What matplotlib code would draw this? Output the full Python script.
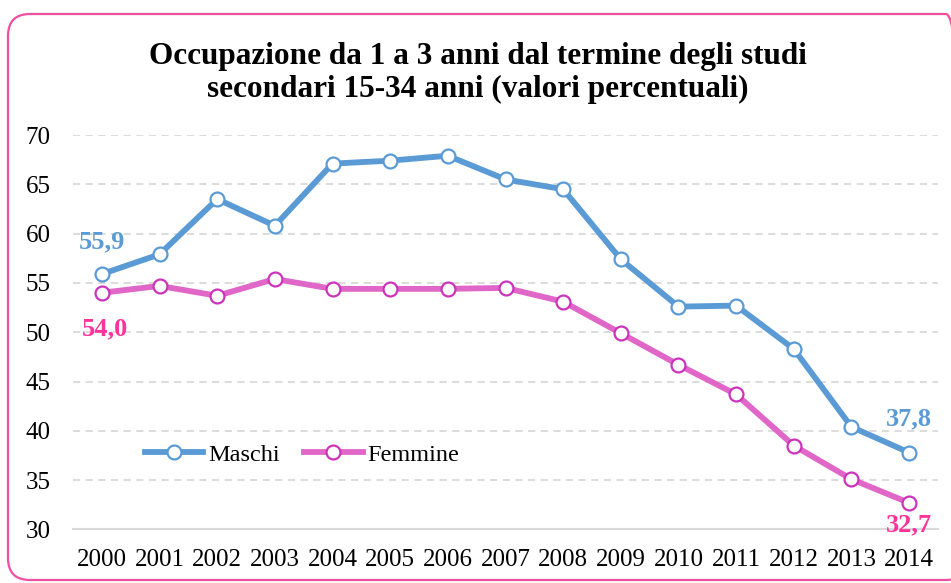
import matplotlib
matplotlib.use('Agg')
import matplotlib.pyplot as plt
from matplotlib.patches import FancyBboxPatch
from matplotlib.transforms import IdentityTransform

# dati
anni = ['2000', '2001', '2002', '2003', '2004', '2005', '2006', '2007',
        '2008', '2009', '2010', '2011', '2012', '2013', '2014']
maschi = [55.9, 57.9, 63.5, 60.8, 67.1, 67.4, 67.9, 65.5,
          64.5, 57.4, 52.6, 52.7, 48.3, 40.4, 37.8]
femmine = [54.0, 54.7, 53.7, 55.4, 54.4, 54.4, 54.4, 54.5,
           53.1, 49.9, 46.7, 43.7, 38.5, 35.1, 32.7]
y_ticks = [30, 35, 40, 45, 50, 55, 60, 65, 70]

blu = '#5B9BD5'
rosa = '#E066C8'
rosa_bordo = '#CC33BB'
rosa_lab = '#FF3399'

plt.rcParams['font.family'] = ['Liberation Serif', 'DejaVu Serif']

fig = plt.figure(figsize=(9.51, 5.83), dpi=100)
ax = fig.add_axes([0.0768, 0.0918, 0.9095, 0.6766])

x = list(range(len(anni)))
ax.plot(x, maschi, '-o', color=blu, lw=4.2, ms=10, mfc='white',
        mec=blu, mew=1.6, label='Maschi', zorder=3)
ax.plot(x, femmine, '-o', color=rosa, lw=4.2, ms=10, mfc='white',
        mec=rosa_bordo, mew=1.6, label='Femmine', zorder=3)

ax.set_xlim(-0.5, len(anni) - 0.5)
ax.set_ylim(30, 70)
ax.set_yticks(y_ticks)
ax.set_xticks(x)
ax.set_xticklabels(anni)
ax.tick_params(length=0, labelsize=18, colors='black')
ax.tick_params(axis='x', pad=14)
ax.tick_params(axis='y', pad=16)

for v in y_ticks[1:]:
    ax.axhline(v, color='#D9D9D9', lw=1.3, ls=(0, (4, 3)), zorder=1)
for s in ['top', 'right', 'left']:
    ax.spines[s].set_visible(False)
ax.spines['bottom'].set_color('#D9D9D9')
ax.spines['bottom'].set_linewidth(1.5)

# etichette primo e ultimo anno
ax.annotate('55,9', (0, maschi[0]), xytext=(0, 23), textcoords='offset points',
            ha='center', va='center', color=blu, fontsize=19, fontweight='bold')
ax.annotate('54,0', (0, femmine[0]), xytext=(2, -26), textcoords='offset points',
            ha='center', va='center', color=rosa_lab, fontsize=19, fontweight='bold')
ax.annotate('37,8', (14, maschi[-1]), xytext=(0, 24), textcoords='offset points',
            ha='center', va='center', color=blu, fontsize=19, fontweight='bold')
ax.annotate('32,7', (14, femmine[-1]), xytext=(0, -16), textcoords='offset points',
            ha='center', va='center', color=rosa_lab, fontsize=19, fontweight='bold')

ax.legend(loc='center', bbox_to_anchor=(0.265, 0.189), ncol=2, frameon=False,
          fontsize=17.5, handlelength=2.4, handletextpad=0.2, columnspacing=1.0)

fig.text(0.5026, 0.875, 'Occupazione da 1 a 3 anni dal termine degli studi\nsecondari 15-34 anni (valori percentuali)',
         ha='center', va='center', fontsize=22.5, fontweight='bold', linespacing=1.2)

# cornice arrotondata
cornice = FancyBboxPatch((8, 3), 960, 566, boxstyle='round,pad=0,rounding_size=22',
                         transform=IdentityTransform(), fill=False,
                         edgecolor='#F050A0', lw=1.6)
fig.patches.append(cornice)

fig.savefig('out.png', dpi=100)
